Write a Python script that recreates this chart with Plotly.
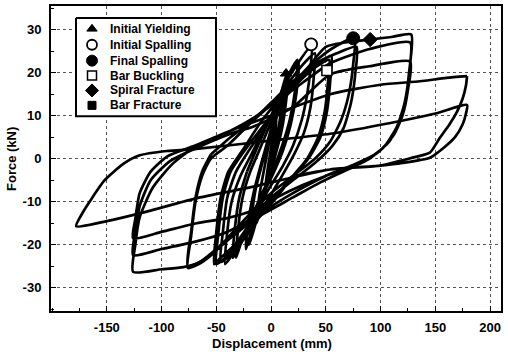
import plotly.graph_objects as go

# ---- hysteresis data (displacement mm, force kN) ----
# small cycles (about +-5 ... +-25 mm)
disp_small = [0, 3, 5, 3, 0, -3, -6, -4, -1,
              3, 7, 10, 8, 4, -2, -8, -13, -11, -6,
              0, 7, 11, 14, 12, 8, 2, -6, -14, -20, -18, -14, -8,
              0, 8, 13, 16, 14, 10, 3, -6, -15, -23, -21, -16, -10,
              -1, 8, 15, 24, 22, 17, 10, 1, -10, -20, -28, -32, -30, -26, -19,
              -9, 2, 12, 25, 23, 18, 11, 1, -11, -22, -30, -35, -33, -29, -22]
force_small = [0, 6, 9, 4, -1, -5, -9, -4, 1,
               7, 12, 15, 9, 3, -4, -10, -15, -9, -2,
               6, 13, 17, 19.5, 13, 6, -1, -8, -15, -20, -14, -7, -1,
               7, 14, 18, 20, 14, 7, 0, -7, -14, -21, -15, -8, -2,
               6, 14, 19, 23, 16, 9, 3, -3, -9, -15, -20, -23, -16, -9, -3,
               3, 10, 17, 22.5, 15, 8, 2, -4, -10, -16, -21, -23, -16, -9, -3]

# medium cycles (about +-35 ... +-75 mm)
disp_mid = [-22, -12, 0, 12, 24, 37, 36, 33, 28, 20, 10, -2, -15, -28, -36, -42, -40, -36, -28,
            -16, -2, 12, 26, 40, 39, 36, 30, 21, 10, -4, -20, -34, -46, -44, -40, -32,
            -20, -4, 12, 28, 42, 53, 52, 49, 43, 33, 20, 5, -12, -28, -42, -50, -48, -44, -37,
            -24, -6, 12, 30, 45, 55, 54, 51, 45, 34, 20, 3, -16, -33, -46, -52, -50, -46, -39,
            -26, -8, 15, 35, 55, 76, 75, 71, 64, 54, 40, 20, 0, -20, -40, -55, -66, -76, -73, -69, -63, -55,
            -40, -20, 0, 20, 40, 60, 78, 77, 73, 66, 56, 40, 20, 0, -20, -40, -58, -76, -73, -69, -63, -55]
force_mid = [-3, 3, 10, 17, 22, 26.3, 21, 15, 9, 3, -2, -7, -13, -19, -22.5, -24.5, -17, -10, -4,
             2, 9, 16, 21, 24.5, 19, 12, 6, 1, -4, -10, -17, -21.5, -24, -17, -9, -3,
             2, 8, 14, 18.5, 21.5, 23, 18, 11, 5, 0, -4, -9, -14, -19, -23, -24.5, -17, -9, -3,
             2, 8, 14, 19.5, 22.5, 24, 18, 11, 5, 0, -4, -9, -14, -20, -23, -24.5, -17, -9, -3,
             2, 9, 16, 21.5, 25.5, 28, 22, 15, 9, 4, 0, -4, -8, -13, -18.5, -22.5, -24.5, -25.4, -18, -10, -4, 0,
             3, 8, 13, 18, 22, 24.5, 26, 20, 13, 7, 3, -1, -5, -9, -14, -19, -23, -25, -17, -9, -3, 1]

# large cycles (about +-125 mm)
disp_large = [-55, -37, -16, 10, 30, 50, 75, 90, 110, 128,
              127, 124, 118, 108, 95, 77, 50, 20, -5, -30, -50, -65, -80, -100, -126,
              -124, -120, -108, -90, -68, -37, -16, 20, 54, 90, 127,
              126, 122, 115, 104, 90, 70, 45, 20, -16, -45, -71, -100, -126,
              -124, -120, -110, -92, -68, -37, -16, 20, 54, 90, 127,
              125, 120, 112, 100, 85, 60, 30, 5, -16, -40, -68, -100, -126,
              -124, -120, -110, -95, -70, -37, 0, 54, 100, 136, 160, 179]
force_large = [1, 5, 9, 15, 20, 26, 27.3, 27.7, 28.3, 28.9,
               22, 15, 9, 4, 1, -1.2, -4, -8, -12, -17, -21, -24, -25.2, -25.7, -26.3,
               -20, -13.6, -6.7, -1.2, 3, 6.5, 9.5, 16, 22.2, 25.5, 27,
               20, 13, 7.5, 3, 0, -2.5, -5.5, -9, -14, -17.5, -19.4, -21, -22.4,
               -17, -11, -5, -0.5, 2.5, 5.8, 7.5, 12, 19.6, 21.5, 22.6,
               16, 10, 5.5, 2, -0.5, -3, -6, -9, -12, -13.8, -15, -17, -18.5,
               -14, -8, -3, 0.5, 3, 6.5, 10, 15, 17.2, 18, 18.8, 19.2]

# final cycles (about +-175 mm)
disp_final = [179, 178, 175, 170, 163, 154, 145, 130, 118, 100, 54, 0, -16, -65, -120, -150, -178,
              -172, -165, -152, -135, -120, -95, -68, 0, 54, 109, 150, 179,
              178, 175, 168, 158, 145, 120, 100, 54, 20]
force_final = [19.2, 17, 14, 11, 8, 4.8, 1.4, 0.3, -0.5, -1.6, -2.5, -5.5, -6.5, -9, -12.7, -14.5, -15.7,
               -12.5, -9.7, -5, -1.2, 0.8, 1.8, 2.3, 4.2, 5.8, 8.3, 10.5, 12.5,
               10.5, 8, 5, 2.6, 0.2, -1, -1.6, -2.5, -4]

# damage state markers
event_names = ["Initial Yielding", "Initial Spalling", "Final Spalling",
               "Bar Buckling", "Spiral Fracture", "Bar Fracture"]
event_disp = [13.7, 36.6, 75, 51, 90.5, None]
event_force = [19.8, 26.6, 28, 20.5, 27.7, None]

x_ticks = [-150, -100, -50, 0, 50, 100, 150, 200]
x_tick_labels = ["-150", "-100", "-50", "0", "50", "100", "150", "200"]
y_ticks = [-30, -20, -10, 0, 10, 20, 30]
y_tick_labels = ["-30", "-20", "-10", "0", "10", "20", "30"]

# ---- figure geometry (pixels) ----
W, H = 508, 352
ML, MR, MT, MB = 51, 7, 4, 41
PW, PH = W - ML - MR, H - MT - MB


def px_x(p):
    return (p - ML) / PW


def px_y(p):
    return (H - MB - p) / PH


fig = go.Figure()
for xs, ys in [(disp_small, force_small), (disp_mid, force_mid),
               (disp_large, force_large), (disp_final, force_final)]:
    fig.add_trace(go.Scatter(x=xs, y=ys, mode="lines",
                             line=dict(color="black", width=2.7, shape="spline", smoothing=0.6),
                             showlegend=False, hoverinfo="skip"))

styles = [
    dict(symbol="triangle-up", size=10, color="black", line=dict(color="black", width=1)),
    dict(symbol="circle", size=12, color="white", line=dict(color="black", width=1.8)),
    dict(symbol="circle", size=13, color="black", line=dict(color="black", width=1)),
    dict(symbol="square", size=10, color="white", line=dict(color="black", width=1.5)),
    dict(symbol="diamond", size=11, color="black", line=dict(color="black", width=1)),
    dict(symbol="square", size=9, color="black", line=dict(color="black", width=1)),
]
for name, xv, yv, st in zip(event_names, event_disp, event_force, styles):
    fig.add_trace(go.Scatter(x=[xv], y=[yv], mode="markers", name=name, marker=st,
                             showlegend=False, hoverinfo="skip"))

# ---- custom legend (box, symbols and labels) on an overlay axis in plot-fraction units ----
box_l, box_r, box_t, box_b = 76, 216, 16, 115
fig.add_trace(go.Scatter(
    x=[px_x(box_l), px_x(box_r), px_x(box_r), px_x(box_l), px_x(box_l)],
    y=[px_y(box_t), px_y(box_t), px_y(box_b), px_y(box_b), px_y(box_t)],
    xaxis="x2", yaxis="y2", mode="lines", fill="toself", fillcolor="white",
    line=dict(color="black", width=2), showlegend=False, hoverinfo="skip"))

leg_rows_px = [27, 43, 59, 74, 89, 104]
leg_styles = [
    dict(symbol="triangle-up", size=9, color="black", line=dict(color="black", width=1)),
    dict(symbol="circle", size=10, color="white", line=dict(color="black", width=1.8)),
    dict(symbol="circle", size=11, color="black", line=dict(color="black", width=1)),
    dict(symbol="square", size=9, color="white", line=dict(color="black", width=1.5)),
    dict(symbol="diamond", size=10, color="black", line=dict(color="black", width=1)),
    dict(symbol="square", size=8, color="black", line=dict(color="black", width=1)),
]
for name, ry, st in zip(event_names, leg_rows_px, leg_styles):
    fig.add_trace(go.Scatter(x=[px_x(92)], y=[px_y(ry)], xaxis="x2", yaxis="y2",
                             mode="markers", marker=st, showlegend=False, hoverinfo="skip"))

font_b = dict(family="Liberation Sans, Arial, sans-serif", size=13, color="black", weight="bold")
font_leg = dict(family="Liberation Sans, Arial, sans-serif", size=12, color="black", weight="bold")

annotations = [
    dict(text="Displacement (mm)", xref="paper", yref="paper",
         x=px_x(272), y=px_y(344), xanchor="center", yanchor="middle",
         showarrow=False, font=font_b),
    dict(text="Force (kN)", xref="paper", yref="paper",
         x=px_x(12), y=px_y(158), xanchor="center", yanchor="middle", textangle=-90,
         showarrow=False, font=font_b),
]
for name, ry in zip(event_names, leg_rows_px):
    annotations.append(dict(text=name, xref="paper", yref="paper",
                            x=px_x(108), y=px_y(ry), xanchor="left", yanchor="middle",
                            showarrow=False, font=font_leg))

axis_common = dict(showline=True, linecolor="black", linewidth=2, mirror=True,
                   showgrid=True, gridcolor="#555", griddash="dot", gridwidth=1,
                   zeroline=False, ticks="inside", ticklen=5, tickcolor="black",
                   tickfont=font_b)

fig.update_layout(
    width=W, height=H,
    margin=dict(l=ML, r=MR, t=MT, b=MB),
    paper_bgcolor="white", plot_bgcolor="white",
    xaxis=dict(range=[-201, 210], tickvals=x_ticks, ticktext=x_tick_labels, ticklabelstandoff=3,
               minor=dict(ticks="inside", ticklen=3, dtick=25, tickcolor="black", showgrid=False),
               **axis_common),
    yaxis=dict(range=[-35.4, 35.5], tickvals=y_ticks, ticktext=y_tick_labels, ticklabelstandoff=5,
               minor=dict(ticks="inside", ticklen=3, dtick=5, tickcolor="black", showgrid=False),
               **axis_common),
    xaxis2=dict(range=[0, 1], overlaying="x", visible=False, fixedrange=True, showgrid=False),
    yaxis2=dict(range=[0, 1], overlaying="y", visible=False, fixedrange=True, showgrid=False),
    showlegend=False,
    annotations=annotations,
)

fig.write_html("out.html")
